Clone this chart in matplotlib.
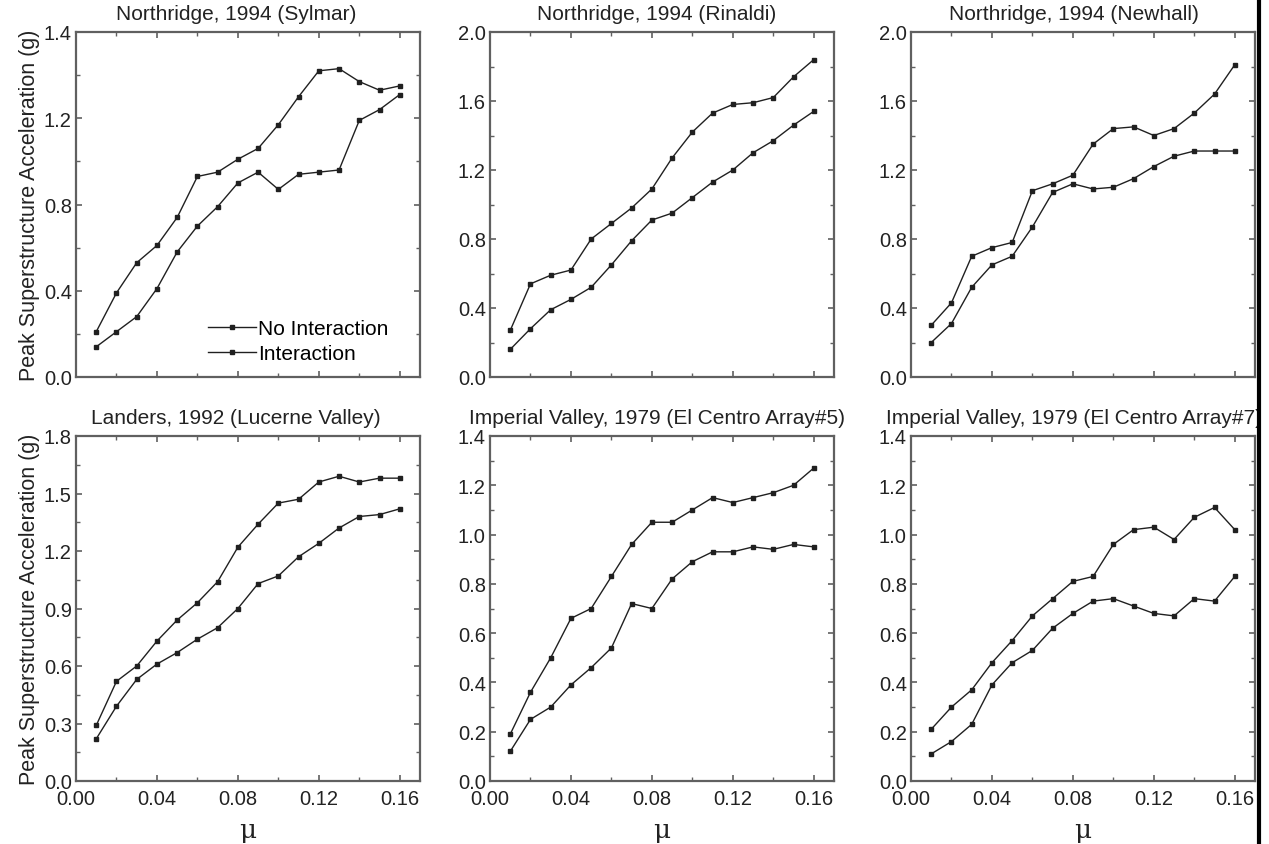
import matplotlib
matplotlib.use("Agg")
from matplotlib import pyplot as plt
from matplotlib.ticker import MultipleLocator, FixedLocator, FixedFormatter
from matplotlib.lines import Line2D

plt.rcParams['font.family'] = ['Liberation Sans', 'DejaVu Sans']

mu = [0.01, 0.02, 0.03, 0.04, 0.05, 0.06, 0.07, 0.08,
      0.09, 0.10, 0.11, 0.12, 0.13, 0.14, 0.15, 0.16]

titles = ["Northridge, 1994 (Sylmar)",
          "Northridge, 1994 (Rinaldi)",
          "Northridge, 1994 (Newhall)",
          "Landers, 1992 (Lucerne Valley)",
          "Imperial Valley, 1979 (El Centro Array#5)",
          "Imperial Valley, 1979 (El Centro Array#7)"]

# upper curve / lower curve of each panel
sylmar_no = [0.21, 0.39, 0.53, 0.61, 0.74, 0.93, 0.95, 1.01, 1.06, 1.17, 1.30, 1.42, 1.43, 1.37, 1.33, 1.35]
sylmar_int = [0.14, 0.21, 0.28, 0.41, 0.58, 0.70, 0.79, 0.90, 0.95, 0.87, 0.94, 0.95, 0.96, 1.19, 1.24, 1.31]

rinaldi_no = [0.27, 0.54, 0.59, 0.62, 0.80, 0.89, 0.98, 1.09, 1.27, 1.42, 1.53, 1.58, 1.59, 1.62, 1.74, 1.84]
rinaldi_int = [0.16, 0.28, 0.39, 0.45, 0.52, 0.65, 0.79, 0.91, 0.95, 1.04, 1.13, 1.20, 1.30, 1.37, 1.46, 1.54]

newhall_no = [0.30, 0.43, 0.70, 0.75, 0.78, 1.08, 1.12, 1.17, 1.35, 1.44, 1.45, 1.40, 1.44, 1.53, 1.64, 1.81]
newhall_int = [0.20, 0.31, 0.52, 0.65, 0.70, 0.87, 1.07, 1.12, 1.09, 1.10, 1.15, 1.22, 1.28, 1.31, 1.31, 1.31]

lucerne_no = [0.29, 0.52, 0.60, 0.73, 0.84, 0.93, 1.04, 1.22, 1.34, 1.45, 1.47, 1.56, 1.59, 1.56, 1.58, 1.58]
lucerne_int = [0.22, 0.39, 0.53, 0.61, 0.67, 0.74, 0.80, 0.90, 1.03, 1.07, 1.17, 1.24, 1.32, 1.38, 1.39, 1.42]

elc5_no = [0.19, 0.36, 0.50, 0.66, 0.70, 0.83, 0.96, 1.05, 1.05, 1.10, 1.15, 1.13, 1.15, 1.17, 1.20, 1.27]
elc5_int = [0.12, 0.25, 0.30, 0.39, 0.46, 0.54, 0.72, 0.70, 0.82, 0.89, 0.93, 0.93, 0.95, 0.94, 0.96, 0.95]

elc7_no = [0.21, 0.30, 0.37, 0.48, 0.57, 0.67, 0.74, 0.81, 0.83, 0.96, 1.02, 1.03, 0.98, 1.07, 1.11, 1.02]
elc7_int = [0.11, 0.16, 0.23, 0.39, 0.48, 0.53, 0.62, 0.68, 0.73, 0.74, 0.71, 0.68, 0.67, 0.74, 0.73, 0.83]

no_interaction = [sylmar_no, rinaldi_no, newhall_no, lucerne_no, elc5_no, elc7_no]
interaction = [sylmar_int, rinaldi_int, newhall_int, lucerne_int, elc5_int, elc7_int]

# y tick values and the labels printed on them (first panel is labelled 1.4 at its top)
y_ticks = [[0.0, 0.4, 0.8, 1.2, 1.6],
           [0.0, 0.4, 0.8, 1.2, 1.6, 2.0],
           [0.0, 0.4, 0.8, 1.2, 1.6, 2.0],
           [0.0, 0.3, 0.6, 0.9, 1.2, 1.5, 1.8],
           [0.0, 0.2, 0.4, 0.6, 0.8, 1.0, 1.2, 1.4],
           [0.0, 0.2, 0.4, 0.6, 0.8, 1.0, 1.2, 1.4]]
y_labels = [["0.0", "0.4", "0.8", "1.2", "1.4"],
            ["0.0", "0.4", "0.8", "1.2", "1.6", "2.0"],
            ["0.0", "0.4", "0.8", "1.2", "1.6", "2.0"],
            ["0.0", "0.3", "0.6", "0.9", "1.2", "1.5", "1.8"],
            ["0.0", "0.2", "0.4", "0.6", "0.8", "1.0", "1.2", "1.4"],
            ["0.0", "0.2", "0.4", "0.6", "0.8", "1.0", "1.2", "1.4"]]
x_ticks = [0.00, 0.04, 0.08, 0.12, 0.16]
x_labels = ["0.00", "0.04", "0.08", "0.12", "0.16"]

W, H = 1269, 845
fig = plt.figure(figsize=(W / 100, H / 100), dpi=100)

lefts = [76, 490, 911]
tops = [33, 437]
aw, ah = 344, 345
title_x = [0.465, 0.485, 0.475]   # titles sit a little left of centre

frame_col = '#606060'
text_col = '#222222'

for i in range(6):
    row, col = divmod(i, 3)
    ax = fig.add_axes([lefts[col] / W, 1 - (tops[row] + ah) / H, aw / W, ah / H])

    ax.plot(mu, no_interaction[i], color='#202020', lw=1.0, marker='s', ms=3.2,
            label='No Interaction')
    ax.plot(mu, interaction[i], color='#202020', lw=1.0, marker='s', ms=3.2,
            label='Interaction')

    ax.set_xlim(0, 0.17)
    ax.set_ylim(0, y_ticks[i][-1])
    ax.xaxis.set_major_locator(FixedLocator(x_ticks))
    ax.xaxis.set_minor_locator(MultipleLocator(0.02))
    ax.yaxis.set_major_locator(FixedLocator(y_ticks[i]))
    ax.yaxis.set_major_formatter(FixedFormatter(y_labels[i]))
    step = y_ticks[i][1] - y_ticks[i][0]
    ax.yaxis.set_minor_locator(MultipleLocator(step / 2))

    if row == 1:
        ax.xaxis.set_major_formatter(FixedFormatter(x_labels))
        ax.set_xlabel('μ', fontsize=19, family=['DejaVu Serif'], labelpad=6,
                      color=text_col)
    else:
        ax.set_xticklabels([])

    ax.tick_params(which='both', direction='in', top=True, right=True,
                   color=frame_col, labelsize=14.5, labelcolor=text_col)
    ax.tick_params(axis='y', pad=3)
    ax.tick_params(axis='x', pad=6)
    ax.tick_params(which='major', length=4, width=1.2)
    ax.tick_params(which='minor', length=3, width=1.0)
    for s in ax.spines.values():
        s.set_color(frame_col)
        s.set_linewidth(1.6)

    ax.set_title(titles[i], fontsize=15, color=text_col, pad=9, x=title_x[col])

    if col == 0:
        ax.set_ylabel('Peak Superstructure Acceleration (g)', fontsize=15.5,
                      color=text_col, labelpad=3)

    if i == 0:
        ax.legend(loc='lower left', bbox_to_anchor=(0.36, 0.015), frameon=False,
                  fontsize=15, handlelength=2.3, handletextpad=0.1,
                  labelspacing=0.3, borderaxespad=0)

# dark scan edge along the right side of the page
fig.add_artist(Line2D([1259 / W, 1259 / W], [0, 1], color='black', lw=3.0,
                      transform=fig.transFigure, zorder=10))

fig.savefig('out.png', dpi=100)
